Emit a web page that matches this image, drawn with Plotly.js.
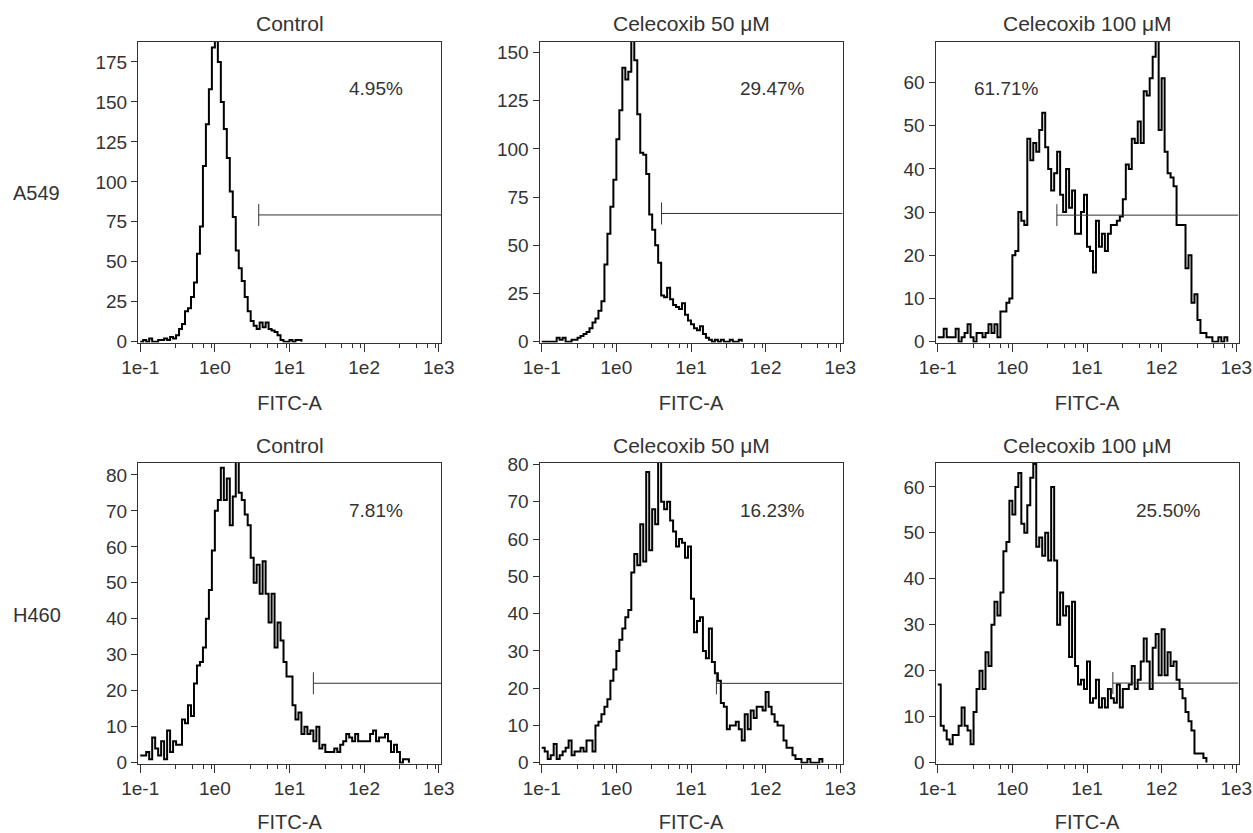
<!DOCTYPE html>
<html>
<head>
<meta charset="utf-8">
<script src="https://cdn.plot.ly/plotly-3.0.1.min.js"></script>
<style>html,body{margin:0;padding:0;background:#fff;}#chart{width:1253px;height:833px;}</style>
</head>
<body>
<div id="chart"></div>
<script>
// ---- data (counts per log bin, first bin starts at 1e-1, bin width 0.04 decade) ----
const binStartLog = -1;
const binWidthLog = 0.04;

const a549Control = [0,1,0,2,0,0,1,1,2,1, 3,2,4,8,11,19,21,28,37,55, 72,110,136,158,184,190,175,150,133,115,
  94,78,57,46,38,28,19,13,10,8, 12,9,12,8,7,6,4,1,0,0, 1,0,1,1];
const a549Cel50 = [0,0,0,0,0,2,1,2,0,0, 1,1,2,3,4,5,7,10,12,16, 21,40,56,70,84,105,120,142,136,140,
  156,146,118,98,97,87,66,58,50,41, 24,23,28,22,19,18,17,20,14,11, 9,7,6,8,4,2,1,0,1,0, 1,0,0,1,0,0,1];
const a549Cel100 = [1,1,3,1,1,1,3,0,1,2, 4,1,0,2,2,1,2,4,2,4, 1,7,7,9,10,20,21,30,28,27,
  47,42,46,44,49,53,45,40,35,39, 44,34,30,40,31,35,25,25,30,34, 22,21,16,28,22,25,21,25,27,27,
  28,29,33,41,40,47,46,51,46,58, 57,61,66,70,49,61,44,39,38,36, 27,27,27,17,20,9,11,5,2,2, 1,1,0,0,1,0,1];
const h460Control = [2,2,3,1,7,4,2,6,1,9, 3,6,5,5,12,11,16,13,22,27, 28,32,40,48,59,70,73,82,73,79,
  66,74,84,75,73,69,66,57,50,55, 47,56,47,39,47,32,39,34,28,24, 24,16,12,14,8,10,8,9,6,10,
  4,5,3,3,3,4,3,5,6,8, 7,6,8,6,6,6,6,8,9,6, 7,7,8,6,3,5,3,0,1,1];
const h460Cel50 = [4,3,1,2,5,1,2,3,4,6, 2,3,3,4,3,6,6,3,10,11, 13,15,17,22,25,30,33,36,39,41,
  51,56,53,64,54,78,57,68,64,81, 70,68,70,65,62,58,60,59,55,58, 44,35,38,39,30,28,36,27,24,22,
  16,15,9,10,10,11,9,6,13,9, 14,12,15,15,14,19,15,13,11,10, 10,6,4,4,2,1,1,0,0,1, 0,0,0,1];
const h460Cel100 = [17,8,7,5,4,6,6,8,12,8, 7,4,11,16,20,16,24,21,30,35, 32,37,46,48,57,54,60,63,52,50,
  56,62,65,47,49,45,50,44,60,44, 30,37,32,34,23,35,21,17,18,16, 22,13,14,18,12,14,12,16,14,13,
  17,12,16,16,17,21,16,18,22,27, 22,16,25,28,19,29,19,24,21,22, 18,16,14,11,9,7,2,2,2,1];

const panelTitles = ['Control', 'Celecoxib 50 \u03bcM', 'Celecoxib 100 \u03bcM'];
const rowLabels = ['A549', 'H460'];
const percentLabels = ['4.95%', '29.47%', '61.71%', '7.81%', '16.23%', '25.50%'];
const gateStart = [3.87, 4.03, 3.95, 20.9, 21.9, 22.2];
const gateLevel = [79.3, 66.5, 29.3, 22.1, 21.3, 17.3];
const yTop = [187.5, 155.4, 69.4, 83.3, 80.4, 65.2];
const yStep = [25, 25, 10, 10, 10, 10];
const xTickVals = [0.1, 1, 10, 100, 1000];
const xTickText = ['1e-1', '1e0', '1e1', '1e2', '1e3'];
const minorDigits = [3, 5, 7, 9];
const xAxisTitle = 'FITC-A';

// ---- layout geometry ----
const W = 1253, H = 833;
const FONT = 'Liberation Sans, Arial, Helvetica, sans-serif';
const TXT = '#333';
const colDom = [[138, 441], [539.5, 842.5], [935.5, 1238.5]].map(d => [d[0] / W, d[1] / W]);
const rowDom = [[42, 342.5], [463, 763.5]].map(d => [1 - d[1] / H, 1 - d[0] / H]);
const titleY = [24, 445];
const labelY = [192.7, 615];
const pctX = [375.5, 772, 1006, 375.5, 772, 1168];
const pctY = [88.3, 510];
const xRange = [-1.03, 3.03];

const series = [a549Control, a549Cel50, a549Cel100, h460Control, h460Cel50, h460Cel100];

const minorVals = [];
for (let k = -1; k < 3; k++) minorDigits.forEach(d => minorVals.push(d * Math.pow(10, k)));

const traces = [];
const layout = {
  width: W, height: H,
  margin: {l: 0, r: 0, t: 0, b: 0},
  paper_bgcolor: '#fff', plot_bgcolor: '#fff',
  showlegend: false,
  font: {family: FONT, color: TXT, size: 19},
  annotations: [], shapes: []
};

series.forEach((counts, p) => {
  const r = Math.floor(p / 3), c = p % 3;
  const sfx = p === 0 ? '' : String(p + 1);
  const xs = [], ys = [];
  counts.forEach((v, i) => { xs.push(Math.pow(10, binStartLog + binWidthLog * i)); ys.push(v); });
  xs.push(Math.pow(10, binStartLog + binWidthLog * counts.length)); ys.push(0);
  traces.push({
    type: 'scatter', mode: 'lines', x: xs, y: ys,
    xaxis: 'x' + sfx, yaxis: 'y' + sfx,
    line: {shape: 'hv', color: '#000', width: 2},
    hoverinfo: 'skip'
  });
  layout['xaxis' + sfx] = {
    type: 'log', range: xRange, domain: colDom[c], anchor: 'y' + sfx,
    tickmode: 'array', tickvals: xTickVals, ticktext: xTickText,
    ticks: 'outside', ticklen: 8, tickwidth: 1, tickcolor: '#333',
    minor: {tickmode: 'array', tickvals: minorVals, ticks: 'outside', ticklen: 4, tickwidth: 1, tickcolor: '#333', showgrid: false},
    showline: true, mirror: true, linecolor: '#333', linewidth: 1,
    showgrid: false, zeroline: false, fixedrange: true,
    tickfont: {family: FONT, size: 19, color: TXT},
    title: {text: xAxisTitle, font: {family: FONT, size: 20, color: TXT}, standoff: 18}
  };
  layout['yaxis' + sfx] = {
    range: [p === 0 ? -0.5 : (p === 1 ? -0.4 : -0.2), yTop[p]], domain: rowDom[r], anchor: 'x' + sfx,
    tickmode: 'linear', tick0: 0, dtick: yStep[p],
    ticks: 'outside', ticklen: 6, tickwidth: 1, tickcolor: '#333',
    showline: true, mirror: true, linecolor: '#333', linewidth: 1,
    showgrid: false, zeroline: false, fixedrange: true,
    tickfont: {family: FONT, size: 19, color: TXT}
  };
  // gate marker
  layout.shapes.push({
    type: 'line', xref: 'x' + sfx, yref: 'y' + sfx,
    x0: gateStart[p], x1: Math.pow(10, xRange[1]), y0: gateLevel[p], y1: gateLevel[p],
    line: {color: '#333', width: 1}
  });
  layout.shapes.push({
    type: 'line', xref: 'x' + sfx, yref: 'y' + sfx,
    x0: gateStart[p], x1: gateStart[p],
    ysizemode: 'pixel', yanchor: gateLevel[p], y0: -11, y1: 11,
    line: {color: '#333', width: 1}
  });
  // percentage text
  layout.annotations.push({
    xref: 'paper', yref: 'paper', x: pctX[p] / W, y: 1 - pctY[r] / H,
    xanchor: 'center', yanchor: 'middle', showarrow: false,
    text: percentLabels[p], font: {family: FONT, size: 19, color: TXT}
  });
  // panel title
  layout.annotations.push({
    xref: 'paper', yref: 'paper', x: (colDom[c][0] + colDom[c][1]) / 2, y: 1 - titleY[r] / H,
    xanchor: 'center', yanchor: 'middle', showarrow: false,
    text: panelTitles[c], font: {family: FONT, size: 21, color: TXT}
  });
});

rowLabels.forEach((t, r) => {
  layout.annotations.push({
    xref: 'paper', yref: 'paper', x: 11 / W, y: 1 - labelY[r] / H,
    xanchor: 'left', yanchor: 'middle', showarrow: false,
    text: t, font: {family: FONT, size: 20, color: TXT}
  });
});

Plotly.newPlot('chart', traces, layout, {displayModeBar: false, staticPlot: true});
</script>
</body>
</html>
